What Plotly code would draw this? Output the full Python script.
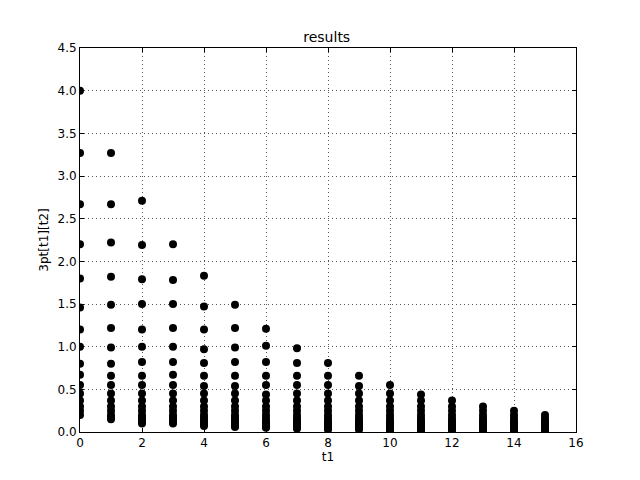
import plotly.graph_objects as go

# values per t1 column
t1_values = list(range(16))
col_vals = [
    [4.0, 3.27, 2.67, 2.2, 1.8, 1.46, 1.2, 1.0, 0.8, 0.67, 0.55, 0.45, 0.37, 0.3, 0.25, 0.2],
    [3.27, 2.67, 2.22, 1.82, 1.49, 1.22, 0.99, 0.8, 0.66, 0.55, 0.45, 0.37, 0.3, 0.25, 0.2, 0.17, 0.15],
    [2.71, 2.19, 1.79, 1.5, 1.2, 1.0, 0.82, 0.66, 0.55, 0.45, 0.37, 0.3, 0.25, 0.2, 0.17, 0.14, 0.12, 0.1],
    [2.2, 1.78, 1.5, 1.22, 1.0, 0.82, 0.67, 0.55, 0.45, 0.37, 0.3, 0.25, 0.2, 0.17, 0.14, 0.12, 0.1],
    [1.83, 1.47, 1.2, 0.97, 0.81, 0.66, 0.54, 0.45, 0.37, 0.3, 0.25, 0.2, 0.17, 0.14, 0.11, 0.09, 0.07],
    [1.49, 1.22, 0.99, 0.82, 0.66, 0.54, 0.45, 0.37, 0.3, 0.25, 0.2, 0.17, 0.14, 0.11, 0.09, 0.07, 0.06],
    [1.21, 1.01, 0.82, 0.66, 0.55, 0.44, 0.37, 0.3, 0.25, 0.2, 0.16, 0.13, 0.11, 0.09, 0.07, 0.06, 0.05],
    [0.98, 0.81, 0.66, 0.55, 0.45, 0.37, 0.3, 0.25, 0.2, 0.16, 0.13, 0.11, 0.09, 0.07, 0.06, 0.05, 0.04],
    [0.81, 0.66, 0.55, 0.45, 0.37, 0.3, 0.25, 0.2, 0.16, 0.13, 0.11, 0.09, 0.07, 0.06, 0.05, 0.04, 0.03],
    [0.66, 0.54, 0.45, 0.37, 0.3, 0.25, 0.2, 0.16, 0.13, 0.11, 0.09, 0.07, 0.06, 0.05, 0.04, 0.03],
    [0.55, 0.45, 0.37, 0.3, 0.25, 0.2, 0.16, 0.13, 0.11, 0.09, 0.07, 0.06, 0.05, 0.04, 0.03, 0.02],
    [0.44, 0.37, 0.3, 0.25, 0.2, 0.16, 0.13, 0.11, 0.09, 0.07, 0.06, 0.05, 0.04, 0.03, 0.02],
    [0.37, 0.3, 0.25, 0.2, 0.16, 0.13, 0.11, 0.09, 0.07, 0.06, 0.05, 0.04, 0.03, 0.02],
    [0.30, 0.25, 0.2, 0.16, 0.13, 0.11, 0.09, 0.07, 0.06, 0.05, 0.04, 0.03, 0.02],
    [0.25, 0.2, 0.16, 0.13, 0.11, 0.09, 0.07, 0.06, 0.05, 0.04, 0.03, 0.02],
    [0.2, 0.16, 0.13, 0.11, 0.09, 0.07, 0.06, 0.05, 0.04, 0.03, 0.02],
]
x_ticks = list(range(0, 17, 2))
y_ticks = [0.0, 0.5, 1.0, 1.5, 2.0, 2.5, 3.0, 3.5, 4.0, 4.5]

xs, ys = [], []
for t1, vals in zip(t1_values, col_vals):
    for v in vals:
        xs.append(t1)
        ys.append(v)

fig = go.Figure()
fig.add_trace(go.Scatter(x=xs, y=ys, mode="markers",
                         marker=dict(color="black", size=8, line=dict(width=0)),
                         showlegend=False))

axis_common = dict(
    showline=True, linecolor="black", linewidth=1, mirror="ticks",
    ticks="inside", ticklen=4, tickcolor="black",
    showgrid=True, gridcolor="#555", gridwidth=0.5, griddash="1px,3px",
    zeroline=False, tickfont=dict(size=12, color="black"),
)

# page body adds an 8px offset, so margins are shifted to compensate
fig.update_layout(
    width=640, height=480,
    margin=dict(l=72, r=72, t=40, b=56),
    paper_bgcolor="white", plot_bgcolor="white",
    font=dict(family="DejaVu Sans", color="black"),
    title=dict(text="results", x=0.498, xanchor="center", y=0.94, yanchor="middle",
               font=dict(size=14)),
    xaxis=dict(range=[0, 16], tickvals=x_ticks,
               title=dict(text="t1", font=dict(size=12), standoff=2), **axis_common),
    yaxis=dict(range=[0, 4.5], tickvals=y_ticks, tickformat=".1f",
               title=dict(text="3pt[t1][t2]", font=dict(size=12), standoff=6), **axis_common),
)

fig.write_html("out.html")
